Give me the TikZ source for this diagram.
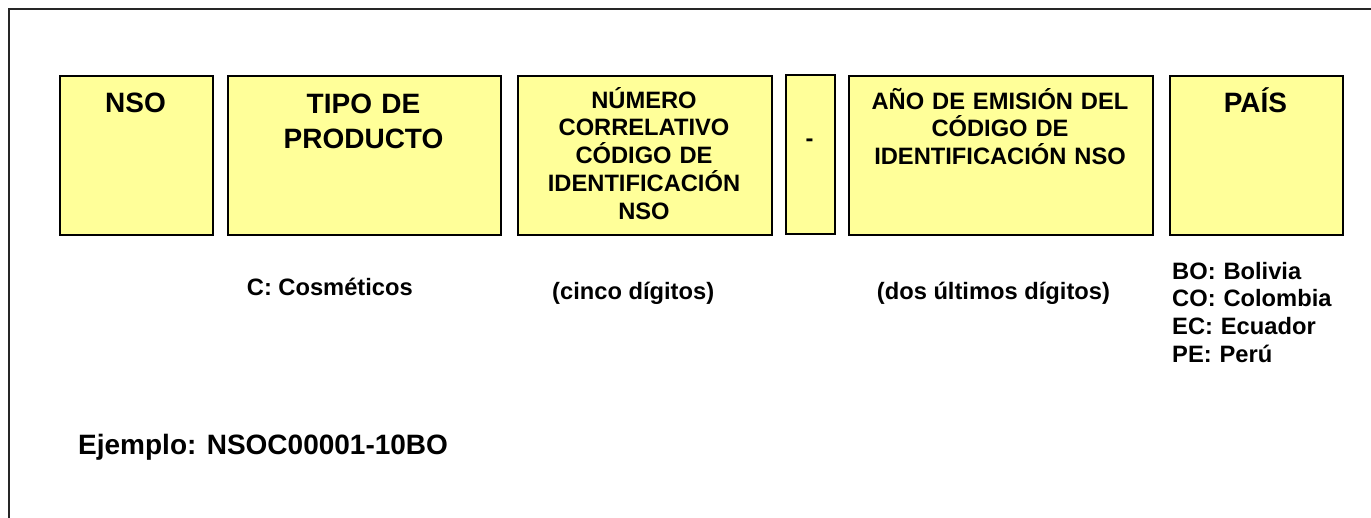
\documentclass[tikz,border=0pt]{standalone}
\usepackage{fontspec}
\setmainfont{Liberation Sans}
\definecolor{boxyellow}{HTML}{FFFF99}
\tikzset{
  box/.style={draw=black, line width=1.8pt, fill=boxyellow, inner sep=0pt, anchor=north west},
  big/.style={font=\bfseries\fontsize{28}{35}\selectfont},
  mid/.style={font=\bfseries\fontsize{23.7}{27.7}\selectfont},
  lbl/.style={inner sep=0pt, anchor=base, align=center, text width=#1},
  lft/.style={inner sep=0pt, anchor=base west},
  frame/.style={draw=black!85, line width=1.6pt}
}
\begin{document}
\begin{tikzpicture}[x=1pt,y=-1pt]
\useasboundingbox (0,0) rectangle (1371,518);
% outer frame (top and left edges visible)
\coordinate (fbl) at (9,520);
\coordinate (ftl) at (9,9);
\coordinate (ftr) at (1373,9);
\draw[frame] (fbl) -- (ftl) -- (ftr);
% boxes
\node[box, minimum width=153pt, minimum height=159pt] (nso)  at (59,75)  {};
\node[box, minimum width=273pt, minimum height=159pt] (tipo) at (227,75) {};
\node[box, minimum width=254pt, minimum height=159pt] (num)  at (517,75) {};
\node[box, minimum width=49pt,  minimum height=159pt] (dash) at (785,74) {};
\node[box, minimum width=304pt, minimum height=159pt] (anio) at (848,75) {};
\node[box, minimum width=173pt, minimum height=159pt] (pais) at (1169,75) {};
% box texts
\node[big, lbl=150pt] (nsot)  at (135.5,113) {NSO};
\node[big, lbl=270pt] (tipot) at (363.5,113.3) {TIPO DE\\PRODUCTO};
\node[mid, lbl=250pt] (numt)  at (644,108.3) {NÚMERO\\CORRELATIVO\\CÓDIGO DE\\IDENTIFICACIÓN\\NSO};
\node[mid, lbl=45pt]  (dasht) at (809.5,147) {-};
\node[mid, lbl=300pt] (aniot) at (1000,109.3) {AÑO DE EMISIÓN DEL\\CÓDIGO DE\\IDENTIFICACIÓN NSO};
\node[big, lbl=170pt] (paist) at (1255.5,112.7) {PAÍS};
% lower labels
\node[mid, lft] (cosm) at (246.7,295.5) {C: Cosméticos};
\node[mid, lft] (cinco) at (552,300) {(cinco dígitos)};
\node[mid, lft] (dos) at (876.7,300) {(dos últimos dígitos)};
\node[mid, inner sep=0pt, anchor=base west, align=left, text width=180pt] (paises) at (1172,279.3)
  {BO: Bolivia\\CO: Colombia\\EC: Ecuador\\PE: Perú};
\node[big, lft] (ejemplo) at (78,454) {Ejemplo: NSOC00001-10BO};
\end{tikzpicture}
\end{document}
